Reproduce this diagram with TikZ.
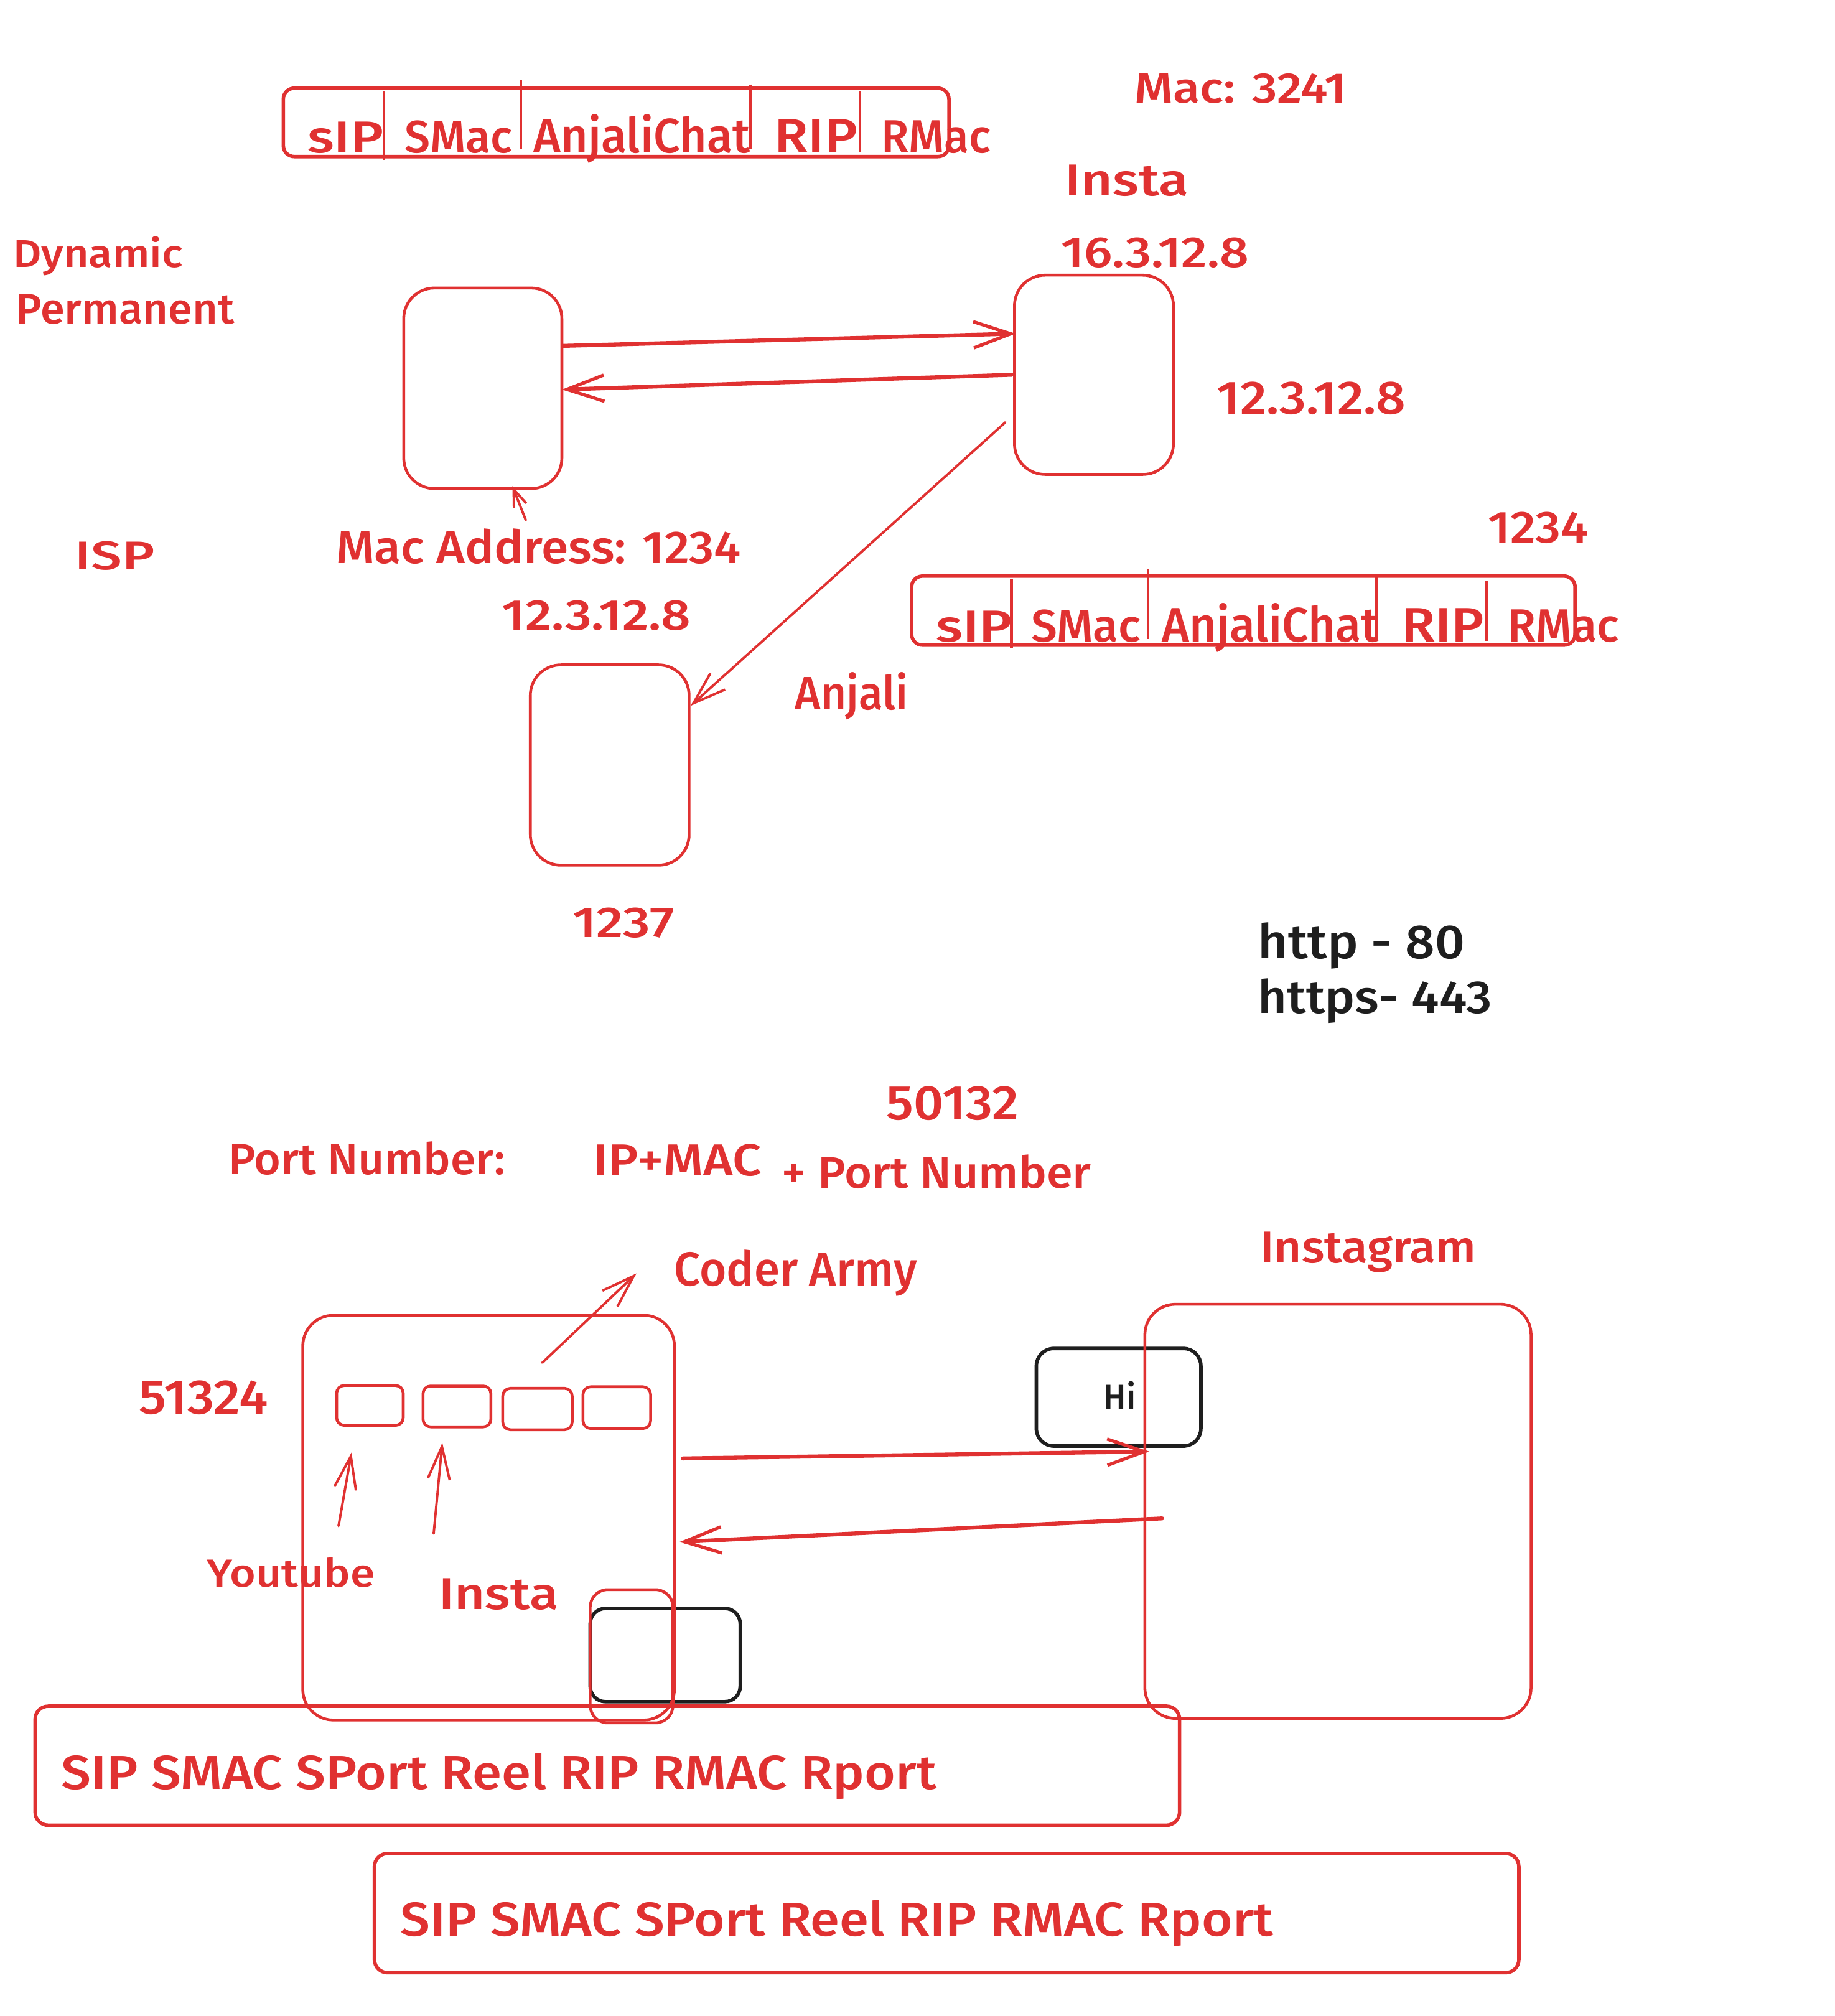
\documentclass[tikz,border=0pt]{standalone}
\usepackage{fontspec}
\setmainfont{Fira Sans Medium}
\usetikzlibrary{arrows.meta,calc}
\newlength\uu
\setlength\uu{0.588pt}
\newcommand\fitt[3]{\resizebox{#1\uu}{#2\uu}{#3}}
\definecolor{exred}{HTML}{E03131}
\definecolor{exblk}{HTML}{1E1E1E}
\begin{document}
\begin{tikzpicture}[x=0.588pt,y=-0.588pt,
  rbox/.style={draw=exred,line width=1.3pt,rounded corners=14pt,inner sep=0pt},
  pbox/.style={draw=exred,line width=1.6pt,rounded corners=5pt,inner sep=0pt},
  portbox/.style={draw=exred,line width=1.3pt,rounded corners=3.5pt,inner sep=0pt},
  kbox/.style={draw=exblk,line width=1.6pt,rounded corners=8pt,inner sep=0pt},
  txt/.style={inner sep=0pt,anchor=base west,text=exred},
  btxt/.style={inner sep=0pt,anchor=base west,text=exblk},
  divider/.style={draw=exred,line width=1.2pt},
  arr/.style={draw=exred,line width=1.8pt,line cap=round,-{Straight Barb[length=17pt,width=12pt,line width=1.5pt]}},
  tarr/.style={draw=exred,line width=1.1pt,line cap=round,-{Straight Barb[length=15pt,width=10pt,line width=1.1pt]}},
  sarr/.style={draw=exred,line width=1.1pt,line cap=round,-{Straight Barb[length=8pt,width=6pt,line width=1.1pt]}}
]
\useasboundingbox (0,0) rectangle (1427,1568);

% ---------- top section boxes ----------
\node[rbox,minimum width=123\uu,minimum height=156\uu] (A) at (375.5,302) {};
\node[rbox,minimum width=123.6\uu,minimum height=155\uu] (B) at (850.8,291.5) {};
\node[rbox,minimum width=123.5\uu,minimum height=155.8\uu] (C) at (474.2,595) {};

% packet 1
\node[pbox,minimum width=517.7\uu,minimum height=53.2\uu] (P1) at (479.2,95.2) {};
\draw[divider] ($(P1.north west)+(79.7,4)$) -- ($(P1.north west)+(79.7,57.2)$);
\draw[divider] ($(P1.north west)+(185.9,-4.9)$) -- ($(P1.north west)+(185.9,48.4)$);
\draw[divider] ($(P1.north west)+(364.7,-1.6)$) -- ($(P1.north west)+(364.7,49)$);
\draw[divider] ($(P1.north west)+(449.9,4)$) -- ($(P1.north west)+(449.9,50.8)$);
\node[txt] (p1a) at (238.8,118.6) {\fitt{59.2}{24}{sIP}};
\node[txt] (p1b) at (314.6,118.6) {\fitt{83.4}{25}{SMac}};
\node[txt] (p1c) at (414.7,118.6) {\fitt{168.3}{30}{AnjaliChat}};
\node[txt] (p1d) at (601.8,118.6) {\fitt{64.8}{26}{RIP}};
\node[txt] (p1e) at (685,118.6) {\fitt{85.3}{25}{RMac}};

% packet 2
\node[pbox,minimum width=516\uu,minimum height=53.7\uu] (P2) at (967,474.9) {};
\draw[divider] ($(P2.north west)+(79,3.6)$) -- ($(P2.north west)+(79,57.7)$);
\draw[divider] ($(P2.north west)+(185.2,-4.4)$) -- ($(P2.north west)+(185.2,50.4)$);
\draw[divider] ($(P2.north west)+(362.8,-0.4)$) -- ($(P2.north west)+(362.8,51.2)$);
\draw[divider] ($(P2.north west)+(448.7,5)$) -- ($(P2.north west)+(448.7,52)$);
\node[txt] (p2a) at (727.6,499.2) {\fitt{59.3}{24}{sIP}};
\node[txt] (p2b) at (801.6,499.2) {\fitt{85.2}{25}{SMac}};
\node[txt] (p2c) at (903.4,499.2) {\fitt{168.4}{30}{AnjaliChat}};
\node[txt] (p2d) at (1089.7,499.2) {\fitt{64.3}{26}{RIP}};
\node[txt] (p2e) at (1172.7,499.2) {\fitt{86.3}{25}{RMac}};

% ---------- top section texts ----------
\node[txt] (tmac) at (882,80) {\fitt{165}{23}{Mac: 3241}};
\node[txt] (tinsta) at (828,152) {\fitt{96}{24}{Insta}};
\node[txt] (tipa) at (825,208) {\fitt{146}{23}{16.3.12.8}};
\node[txt] (tdyn) at (10,208) {\fitt{132}{24}{Dynamic}};
\node[txt] (tperm) at (12,252) {\fitt{170}{23}{Permanent}};
\node[txt] (tipr) at (946,322) {\fitt{147}{25}{12.3.12.8}};
\node[txt] (tisp) at (58,443) {\fitt{62}{22}{ISP}};
\node[txt] (tmaca) at (261,438) {\fitt{315}{27}{Mac Address: 1234}};
\node[txt] (tipb) at (390,490) {\fitt{147}{23}{12.3.12.8}};
\node[txt] (t1234) at (1157,422) {\fitt{78}{24}{1234}};
\node[txt] (tanj) at (618,552) {\fitt{88}{29}{Anjali}};
\node[txt] (t1237) at (445,729) {\fitt{79}{23}{1237}};
\node[btxt] (thttp) at (978,745.5) {\fitt{161}{28}{http - 80}};
\node[btxt] (thttps) at (978,788) {\fitt{182}{27}{https- 443}};

% ---------- top section arrows ----------
\draw[arr] ($(A.east)+(0,-33)$) -- ($(B.west)+(2,-32)$);
\draw[arr] ($(B.west)+(-1,0)$) -- ($(A.east)+(-1,1)$);
\draw[tarr] ($(B.west)+(-6,37)$) -- ($(C.east)+(0,-46)$);
\draw[sarr] ($(tmaca.north west)+(148,-6)$) -- ($(A.south)+(23,-3)$);

% ---------- bottom section texts ----------
\node[txt] (t50132) at (689,871) {\fitt{103}{26}{50132}};
\node[txt] (tport) at (177.6,913.6) {\fitt{215}{25.6}{Port Number:}};
\node[txt] (tipmac) at (461,914.6) {\fitt{131}{24.6}{IP+MAC}};
\node[txt] (tpn) at (607.8,924.2) {\fitt{240.5}{26}{+ Port Number}};
\node[txt] (tcoder) at (524,1000) {\fitt{189}{28}{Coder Army}};
\node[txt] (tinstagram) at (979.8,982.3) {\fitt{168}{24}{Instagram}};
\node[txt] (t51324) at (108,1100) {\fitt{100}{26}{51324}};
\node[txt] (tyt) at (160.7,1234.2) {\fitt{130.6}{23}{Youtube}};
\node[txt] (tinsta2) at (341,1251.8) {\fitt{93}{24}{Insta}};

% ---------- bottom section boxes ----------
\node[kbox,rounded corners=7pt,minimum width=116.7\uu,minimum height=72.5\uu] (K) at (517.35,1287.25) {};
\node[kbox,minimum width=128\uu,minimum height=75.9\uu] (H) at (870,1086.75) {};
\node[btxt] (thi) at (858,1096.5) {\fitt{25}{22}{Hi}};

\node[rbox,minimum width=289\uu,minimum height=314.8\uu] (Ph) at (380,1180.4) {};
\node[portbox,minimum width=51.8\uu,minimum height=31\uu] (q1) at (287.7,1093.1) {};
\node[portbox,minimum width=52.8\uu,minimum height=31.8\uu] (q2) at (355.4,1093.9) {};
\node[portbox,minimum width=54\uu,minimum height=32.2\uu] (q3) at (418,1095.9) {};
\node[portbox,minimum width=52.6\uu,minimum height=32.4\uu] (q4) at (479.7,1094.8) {};
\node[rbox,rounded corners=8pt,minimum width=64.4\uu,minimum height=103.6\uu] (R) at (491.2,1288.2) {};
\node[rbox,minimum width=300.4\uu,minimum height=322.1\uu] (G) at (1040.6,1175.45) {};

\node[pbox,rounded corners=6pt,minimum width=890.1\uu,minimum height=92.6\uu] (L1) at (472.35,1373.3) {};
\node[pbox,rounded corners=6pt,minimum width=890.1\uu,minimum height=92.7\uu] (L2) at (736.25,1487.95) {};
\node[txt] (tpk1) at (47.3,1391.6) {\fitt{680.7}{28}{SIP SMAC SPort Reel RIP RMAC Rport}};
\node[txt] (tpk2) at (311.3,1506) {\fitt{678.7}{28}{SIP SMAC SPort Reel RIP RMAC Rport}};

% ---------- bottom section arrows ----------
\draw[tarr] ($(Ph.north)+(41.8,38)$) -- ($(tcoder.base west)+(-29,-9.6)$);
\draw[tarr] ($(tyt.north west)+(102.6,-24)$) -- ($(q1.south)+(-14.3,20)$);
\draw[tarr] ($(tinsta2.north west)+(-3.7,-34.8)$) -- ($(q2.south)+(-11.4,11.2)$);
\draw[arr] ($(Ph.east)+(5.5,-46.1)$) -- ($(G.west)+(4.6,-46.5)$);
\draw[arr] ($(G.west)+(14.6,5.5)$) -- ($(Ph.east)+(2.8,18.9)$);
\end{tikzpicture}
\end{document}
